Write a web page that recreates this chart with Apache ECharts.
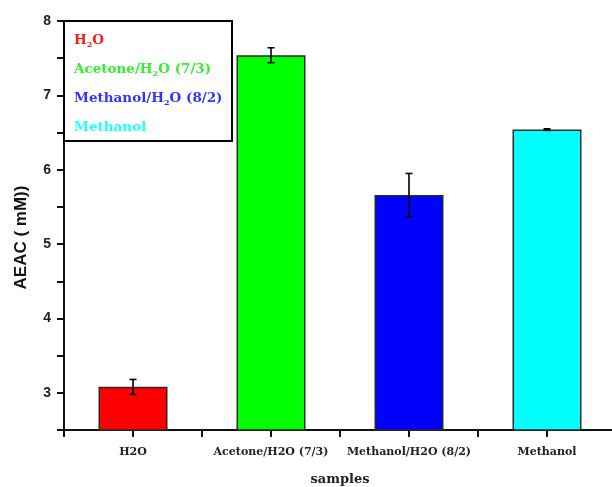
<!DOCTYPE html>
<html>
<head>
<meta charset="utf-8">
<script src="https://cdn.jsdelivr.net/npm/echarts@6/dist/echarts.min.js"></script>
<style>
  html, body { margin: 0; padding: 0; background: #fff; }
  #chart { width: 612px; height: 487px; }
</style>
</head>
<body>
<div id="chart"></div>
<script>
// Sample groups (x positions 1..4 on the sample scale)
const categories = ['H2O', 'Acetone/H2O (7/3)', 'Methanol/H2O (8/2)', 'Methanol'];
// Legend entries use a subscript 2 in H2O
const legendLabels = ['{t|H}{s|2}{t|O}', '{t|Acetone/H}{s|2}{t|O (7/3)}', '{t|Methanol/H}{s|2}{t|O (8/2)}', '{t|Methanol}'];
// AEAC means (mM) and standard deviations
const means = [3.08, 7.54, 5.66, 6.54];
const errors = [0.10, 0.10, 0.29, 0.01];
const barColors = ['#ff0000', '#00ff00', '#0000ff', '#00ffff'];
const legendColors = ['#ff1a1a', '#33ee33', '#3333ff', '#22ffff'];

const barSeries = categories.map((name, i) => ({
  name: name,
  type: 'bar',
  stack: 'samples',
  barWidth: 69,
  data: [[i + 1, means[i]]],
  itemStyle: { color: barColors[i], borderColor: '#2a2a2a', borderWidth: 1.5 },
  z: 2
}));

const errorSeries = {
  type: 'custom',
  name: 'sd',
  z: 5,
  data: means.map((m, i) => [i + 1, m - errors[i], m + errors[i]]),
  renderItem: function (params, api) {
    const lo = api.coord([api.value(0), api.value(1)]);
    const hi = api.coord([api.value(0), api.value(2)]);
    const cap = 3.5;
    const style = { stroke: '#000', lineWidth: 1.6 };
    return {
      type: 'group',
      children: [
        { type: 'line', shape: { x1: lo[0], y1: lo[1], x2: hi[0], y2: hi[1] }, style: style },
        { type: 'line', shape: { x1: lo[0] - cap, y1: lo[1], x2: lo[0] + cap, y2: lo[1] }, style: style },
        { type: 'line', shape: { x1: hi[0] - cap, y1: hi[1], x2: hi[0] + cap, y2: hi[1] }, style: style }
      ]
    };
  }
};

const chart = echarts.init(document.getElementById('chart'), null, { renderer: 'canvas' });
chart.setOption({
  animation: false,
  backgroundColor: '#fff',
  grid: { left: 64, right: -4, top: 21, bottom: 57, containLabel: false, outerBoundsMode: 'none' },
  legend: {
    orient: 'vertical',
    left: 69,
    top: 33,
    padding: [0, 0, 0, 0],
    itemGap: 13.5,
    itemWidth: 0,
    itemHeight: 0,
    icon: 'none',
    selectedMode: false,
    data: categories.map((name, i) => ({ name: name, textStyle: { color: legendColors[i] } })),
    formatter: function (name) { return legendLabels[categories.indexOf(name)]; },
    textStyle: {
      fontFamily: 'DejaVu Serif',
      fontWeight: 'bold',
      fontSize: 13.5,
      rich: {
        t: { fontFamily: 'DejaVu Serif', fontWeight: 'bold', fontSize: 13.5 },
        s: { fontFamily: 'DejaVu Serif', fontWeight: 'bold', fontSize: 8, padding: [9, 0, 0, 0] }
      }
    }
  },
  graphic: [{
    type: 'rect',
    shape: { x: 64, y: 21, width: 168, height: 120 },
    style: { fill: 'none', stroke: '#000', lineWidth: 2 },
    z: 10
  }],
  xAxis: {
    type: 'value',
    min: 0.5,
    max: 4.5,
    interval: 0.5,
    name: 'samples',
    nameLocation: 'middle',
    nameGap: 43,
    nameTextStyle: { fontFamily: 'DejaVu Serif', fontWeight: 'bold', fontSize: 13, color: '#222' },
    splitLine: { show: false },
    axisLine: { lineStyle: { color: '#111', width: 2 } },
    axisTick: { length: 7, lineStyle: { color: '#111', width: 2 } },
    axisLabel: {
      margin: 17,
      fontFamily: 'DejaVu Serif',
      fontWeight: 'bold',
      fontSize: 11,
      color: '#222',
      showMaxLabel: false,
      formatter: function (v) {
        return Number.isInteger(v) && v >= 1 && v <= categories.length ? categories[v - 1] : '';
      }
    }
  },
  yAxis: {
    type: 'value',
    min: 2.5,
    max: 8,
    interval: 0.5,
    name: 'AEAC ( mM))',
    nameLocation: 'middle',
    nameGap: 34,
    nameTextStyle: { fontFamily: 'Liberation Sans', fontWeight: 'bold', fontSize: 17, color: '#111', padding: [0, 24, 0, 0] },
    splitLine: { show: false },
    axisLine: { show: true, lineStyle: { color: '#111', width: 2 } },
    axisTick: { length: 7, lineStyle: { color: '#111', width: 2 } },
    axisLabel: {
      margin: 13,
      fontFamily: 'Liberation Sans',
      fontWeight: 'bold',
      fontSize: 14,
      color: '#222',
      formatter: function (v) { return Number.isInteger(v) ? String(v) : ''; }
    }
  },
  series: barSeries.concat([errorSeries])
});
</script>
</body>
</html>
